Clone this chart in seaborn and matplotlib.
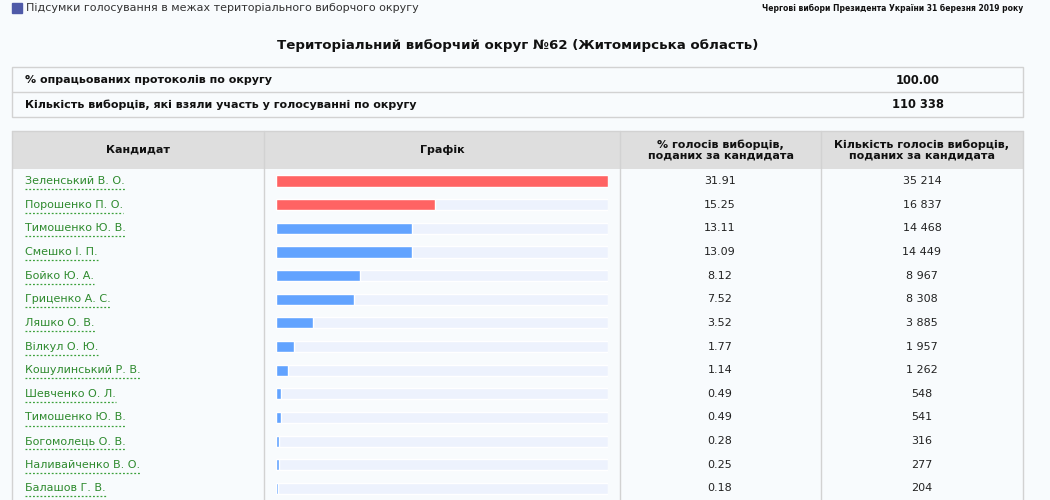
import pandas as pd
import numpy as np
import seaborn as sns
import matplotlib.pyplot as plt
from matplotlib.patches import Rectangle

# data
names = ["Зеленський В. О.", "Порошенко П. О.", "Тимошенко Ю. В.", "Смешко І. П.",
         "Бойко Ю. А.", "Гриценко А. С.", "Ляшко О. В.", "Вілкул О. Ю.",
         "Кошулинський Р. В.", "Шевченко О. Л.", "Тимошенко Ю. В.", "Богомолець О. В.",
         "Наливайченко В. О.", "Балашов Г. В."]
pct = [31.91, 15.25, 13.11, 13.09, 8.12, 7.52, 3.52, 1.77, 1.14, 0.49, 0.49, 0.28, 0.25, 0.18]
votes = ["35 214", "16 837", "14 468", "14 449", "8 967", "8 308", "3 885", "1 957",
         "1 262", "548", "541", "316", "277", "204"]
groups = ["top", "top"] + ["rest"] * 12
headers = ["Кандидат", "Графік", "% голосів виборців,\nподаних за кандидата",
           "Кількість голосів виборців,\nподаних за кандидата"]
info_labels = ["% опрацьованих протоколів по округу",
               "Кількість виборців, які взяли участь у голосуванні по округу"]
info_values = ["100.00", "110 338"]

dt = pd.DataFrame({"row": range(len(names)), "name": names, "pct": pct,
                   "votes": votes, "group": groups})
dt["full"] = max(pct)

sns.set_theme(style="white")
plt.rcParams['font.family'] = ['DejaVu Sans']

W, H = 1050, 500
bg = "#f8fbfd"
line_c = "#d2d2d2"
fig = plt.figure(figsize=(W / 100, H / 100), dpi=100, facecolor=bg)

# page axes in pixel coords
ax = fig.add_axes([0, 0, 1, 1])
ax.set_xlim(0, W)
ax.set_ylim(H, 0)
ax.axis("off")
ax.set_facecolor(bg)

# top strip
ax.add_patch(Rectangle((12, 3), 10, 10, color="#4f5aa8"))
ax.text(26, 8, "Підсумки голосування в межах територіального виборчого округу",
        fontsize=8, color="#333333", va="center")
ax.text(1023, 8, "Чергові вибори Президента України 31 березня 2019 року",
        fontsize=5.5, fontweight="bold", color="#111111", va="center", ha="right")

ax.text(518, 46, "Територіальний виборчий округ №62 (Житомирська область)",
        fontsize=9.6, fontweight="bold", color="#111111", ha="center", va="center")

# info box
ax.add_patch(Rectangle((12, 67), 1011, 50, facecolor="none", edgecolor=line_c, lw=1))
ax.plot([12, 1023], [92, 92], color=line_c, lw=1)
for i, (lab, val) in enumerate(zip(info_labels, info_values)):
    y = 80 + 25 * i
    ax.text(25, y, lab, fontsize=8, fontweight="bold", color="#111111", va="center")
    ax.text(918, y, val, fontsize=8.3, fontweight="bold", color="#111111", va="center", ha="center")

# main table
cols = [12, 264, 620, 821, 1023]
top, head_bot = 131, 169
ax.add_patch(Rectangle((12, top), 1011, head_bot - top, facecolor="#dedede", edgecolor="none"))
ax.plot([12, 1023], [top, top], color=line_c, lw=1)
for x in cols:
    ax.plot([x, x], [top, H], color=line_c, lw=1)
for i, h in enumerate(headers):
    cx = (cols[i] + cols[i + 1]) / 2
    ax.text(cx, 150, h, fontsize=8, fontweight="bold", color="#111111",
            ha="center", va="center", linespacing=1.15)

row0, step = 181, 23.65
name_texts = []
for i, r in dt.iterrows():
    y = row0 + step * i
    t = ax.text(25, y, r["name"], fontsize=8, color="#2e8a2e", va="center")
    name_texts.append((t, y))
    ax.text(720, y, f"{r['pct']:.2f}", fontsize=8, color="#222222", va="center", ha="center")
    ax.text(922, y, r["votes"], fontsize=8, color="#222222", va="center", ha="center")

# dotted underline under names
fig.canvas.draw()
rend = fig.canvas.get_renderer()
inv = ax.transData.inverted()
for t, y in name_texts:
    bb = t.get_window_extent(renderer=rend)
    x0 = inv.transform((bb.x0, 0))[0]
    x1 = inv.transform((bb.x1, 0))[0]
    ax.plot([x0, x1], [y + 8, y + 8], color="#3aa03a", lw=0.9, ls=(0, (1.5, 1.5)))

# bar chart column
bx0, bx1 = 276, 608
ax_top, ax_bot = head_bot, H
bax = fig.add_axes([bx0 / W, 1 - ax_bot / H, (bx1 - bx0) / W, (ax_bot - ax_top) / H])
bax.patch.set_alpha(0)
sns.barplot(data=dt, x="full", y="row", orient="h", color="#edf2fd",
            width=0.47, saturation=1, ax=bax)
sns.barplot(data=dt, x="pct", y="row", orient="h", hue="group", dodge=False,
            palette={"top": "#ff6363", "rest": "#62a3ff"}, width=0.47,
            saturation=1, legend=False, ax=bax)
bax.set_xlim(0, max(pct))
bax.set_ylim((ax_bot - row0) / step, -(row0 - ax_top) / step)
bax.axis("off")

fig.savefig("out.png", dpi=100, facecolor=bg)
